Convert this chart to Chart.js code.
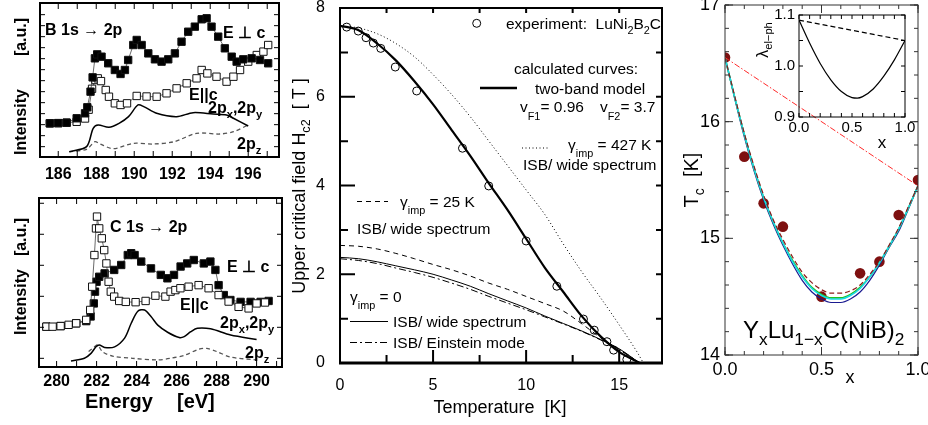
<!DOCTYPE html>
<html lang="en">
<head>
<meta charset="UTF-8" />
<title>NEXAFS, Hc2 and Tc panels</title>
<script src="https://cdn.jsdelivr.net/npm/chart.js@4.4.0/dist/chart.umd.min.js"></script>
<style>
  html, body { margin: 0; width: 928px; height: 425px; overflow: hidden; background: #fff; }
  body { position: relative; }
  canvas { position: absolute; }
</style>
</head>
<body>
<canvas id="boron" width="300" height="205" style="left:-10px;top:-20px"></canvas>
<canvas id="carbon" width="300" height="245" style="left:-10px;top:180px"></canvas>
<canvas id="hc2" width="385" height="445" style="left:290px;top:-20px"></canvas>
<canvas id="tc" width="270" height="445" style="left:675px;top:-20px"></canvas>
<canvas id="lam" width="190" height="190" style="left:740px;top:-20px"></canvas>

<script>
// ---- B 1s -> 2p (top left) ----
const bPerpE = [185.56,186.0,186.44,186.97,187.41,187.53,187.70,187.81,187.93,188.05,188.28,188.63,188.98,189.28,189.51,189.68,189.95,190.13,190.39,190.74,191.09,191.44,191.79,192.14,192.49,192.84,193.19,193.55,193.81,194.07,194.42,194.77,195.13,195.39,195.74,196.18,196.62,197.05];
const bPerpI = [3.06,3.08,3.12,3.52,3.97,4.52,5.94,7.24,8.97,9.33,9.12,8.52,7.91,7.55,7.91,8.82,10.18,10.64,10.18,9.42,8.88,8.67,8.88,9.42,10.48,11.39,11.85,12.52,12.61,11.85,10.94,9.88,9.12,8.67,8.88,8.97,8.82,8.52];
const bParE = [185.56,186.0,186.44,186.97,187.41,187.6,187.78,187.95,188.08,188.25,188.5,188.67,188.98,189.28,189.62,190.13,190.65,191.18,191.7,192.23,192.76,193.28,193.55,193.85,194.33,194.86,195.22,195.57,196.0,196.45,196.8,197.05];
const bParI = [3.06,3.08,3.12,3.2,3.5,4.3,6.2,7.0,7.15,6.9,6.09,5.48,4.88,4.73,4.88,5.55,5.5,5.48,5.79,6.24,6.7,7.15,7.91,7.6,7.3,6.85,7.3,7.91,8.67,9.27,9.58,10.18];
const bXYE = [186.58,187.49,187.84,188.1,188.67,189.2,189.7,190.2,190.5,191.18,192.23,193.1,194.16,194.86,195.22,196.0];
const bXYI = [0.48,0.94,2.61,2.91,2.7,3.06,3.67,4.73,4.58,3.97,3.67,4.03,3.91,3.82,3.52,2.82];
const bZE = [186.58,187.49,187.93,188.2,188.9,189.95,191.0,192.1,193.28,194.5,195.22,196.0];
const bZI = [0.48,0.7,1.39,1.18,0.76,1.24,1.18,1.39,2.15,2.09,2.3,2.91];

// ---- C 1s -> 2p (bottom left) ----
const cParE = [279.49,279.8,280.2,280.6,280.98,281.48,281.68,281.78,281.89,281.97,282.02,282.13,282.26,282.38,282.49,282.6,282.71,282.88,283.13,283.46,283.95,284.45,284.94,285.44,285.7,285.94,286.19,286.6,287.1,287.6,288.1,288.6,289.1,289.6,290.0,290.42];
const cParI = [1.02,1.02,1.04,1.08,1.13,1.24,1.56,2.31,3.33,4.19,4.57,4.19,3.87,3.49,3.06,2.47,2.15,1.99,1.85,1.82,1.81,1.85,2.02,1.99,2.15,2.2,2.26,2.31,2.36,2.26,2.04,1.83,1.66,1.61,1.77,1.8];
const cPerpE = [279.49,280.2,280.98,281.48,281.7,281.86,281.92,282.0,282.13,282.4,282.88,283.23,283.56,283.73,283.9,284.23,284.72,285.21,285.54,285.87,286.2,286.53,286.86,287.36,287.69,287.94,288.1,288.36,288.69,289.2,289.7,290.2,290.6];
const cPerpI = [1.02,1.04,1.13,1.2,1.35,1.77,2.15,2.47,2.63,2.74,2.85,3.01,3.33,3.39,3.33,3.12,2.9,2.69,2.58,2.69,2.96,3.06,3.17,3.06,3.12,2.85,2.36,2.04,1.88,1.82,1.82,1.82,1.85];
const cXYE = [280.72,281.39,281.72,281.97,282.13,282.4,282.9,283.4,283.73,284.06,284.4,284.73,285.06,285.55,286.13,286.38,286.71,287.04,287.7,288.7,290.0];
const cXYI = [-0.09,0,0.16,0.37,0.43,0.35,0.37,0.65,1.13,1.52,1.56,1.34,1.07,0.84,0.67,0.7,0.86,0.97,0.95,0.75,0.61];
const cZE = [281.6,281.89,282.05,282.3,282.8,283.8,285.06,285.7,286.4,287.1,287.5,288.0,288.7,290.0];
const cZI = [0.22,0.37,0.43,0.21,0.07,0,-0.05,0,0.1,0.29,0.32,0.22,0.04,-0.05];

// ---- Hc2(T) (middle) ----
const expT = [0.36,0.98,1.40,1.79,2.19,2.97,4.12,6.58,7.99,10.0,11.65,13.08,13.66,14.34,14.7,15.41];
const expH = [7.57,7.48,7.33,7.21,7.09,6.67,6.13,4.84,3.99,2.75,1.73,0.99,0.74,0.48,0.29,0.08];
const curveT = [0,1,2,3,4,5,6,7,8,9,10,11,12,13,14,15,16.1];
const twoBandH = [7.6,7.5,7.2,6.82,6.35,5.83,5.25,4.67,4.05,3.45,2.8,2.15,1.6,1.05,0.6,0.25,0];
const gam25H = [2.65,2.63,2.57,2.47,2.35,2.22,2.1,1.96,1.8,1.66,1.5,1.34,1.17,0.88,0.57,0.3,0];
const gam0WideH = [2.38,2.35,2.28,2.19,2.1,2.0,1.87,1.73,1.56,1.4,1.24,1.06,0.89,0.72,0.53,0.32,0];
const gam0EinH = [2.35,2.31,2.24,2.14,2.04,1.93,1.8,1.66,1.5,1.35,1.2,1.04,0.88,0.71,0.52,0.31,0];
const dotT = [0,1,2,3,4,5,6,7,8,9,10,11,12,13,14,15,16,16.3];
const gam427H = [7.6,7.55,7.42,7.2,6.9,6.5,6.05,5.55,5.0,4.45,3.9,3.35,2.68,2.05,1.47,0.86,0.22,0];

// ---- Tc(x) (right) ----
const dotX = [0,0.1,0.2,0.3,0.5,0.7,0.8,0.9,1.0];
const dotTc = [16.55,15.7,15.3,15.1,14.5,14.7,14.8,15.2,15.5];
const fitX = [0,0.05,0.1,0.15,0.2,0.25,0.3,0.35,0.4,0.45,0.5,0.55,0.6,0.65,0.7,0.75,0.8,0.85,0.9,0.95,1.0];
const tcBlue = [16.55,16.2,15.87,15.58,15.33,15.12,14.94,14.78,14.64,14.54,14.48,14.45,14.45,14.48,14.54,14.64,14.77,14.92,15.06,15.25,15.45];
const tcCyan = [16.55,16.21,15.89,15.6,15.35,15.14,14.96,14.8,14.67,14.57,14.51,14.48,14.48,14.51,14.57,14.67,14.79,14.93,15.08,15.26,15.45];
const tcGreen = [16.55,16.21,15.89,15.6,15.35,15.14,14.96,14.81,14.68,14.58,14.52,14.49,14.49,14.52,14.58,14.67,14.79,14.93,15.08,15.26,15.45];
const tcDash = [16.55,16.22,15.9,15.62,15.37,15.16,14.99,14.84,14.71,14.62,14.56,14.53,14.53,14.55,14.6,14.69,14.8,14.94,15.09,15.27,15.45];
const linX = [0,1];
const linTc = [16.55,15.45];

// ---- lambda(x) (inset) ----
const lamX = [0,0.1,0.2,0.3,0.4,0.5,0.55,0.6,0.7,0.8,0.9,1.0];
const lamSolid = [1.09,1.045,1.005,0.973,0.95,0.938,0.937,0.94,0.955,0.98,1.012,1.05];
const lamLinX = [0,1];
const lamLin = [1.09,1.05];

const FAM = "'Liberation Sans', Arial, Helvetica, sans-serif";
Chart.defaults.font.family = FAM;
Chart.defaults.color = '#000';
Chart.defaults.animation = false;
Chart.defaults.plugins.legend.display = false;
Chart.defaults.plugins.tooltip.enabled = false;

const mk = (xs, ys) => xs.map((x, i) => ({ x: x, y: ys[i] }));

function lineSet(xs, ys, color, width, dash, extra) {
  return Object.assign({
    data: mk(xs, ys), showLine: true, borderColor: color, borderWidth: width,
    borderDash: dash || [], pointRadius: 0, cubicInterpolationMode: 'monotone'
  }, extra || {});
}

function squareSet(xs, ys, fill) {
  return {
    data: mk(xs, ys), showLine: true, borderColor: '#444', borderWidth: 0.8,
    pointStyle: 'rect', pointRadius: 5.2, pointBackgroundColor: fill,
    pointBorderColor: '#111', pointBorderWidth: 1
  };
}

// rich text: parts = [[text, 'n'|'b'(sub)|'p'(sup)], ...]
function drawRich(ctx, it) {
  const size = it.size || 16;
  const weight = it.bold ? 'bold ' : '';
  const sub = it.subScale || 0.7;
  ctx.save();
  ctx.translate(it.x, it.y);
  if (it.rot) ctx.rotate(it.rot * Math.PI / 180);
  ctx.fillStyle = it.color || '#000';
  ctx.textBaseline = 'alphabetic';
  ctx.textAlign = 'left';
  let total = 0;
  const segs = it.parts.map(p => {
    const kind = p[1] || 'n';
    const s = kind === 'n' ? size : size * sub;
    const font = weight + s + 'px ' + FAM;
    ctx.font = font;
    const w = ctx.measureText(p[0]).width;
    total += w;
    const dy = kind === 'b' ? (it.subDy != null ? it.subDy : size * 0.3) : kind === 'p' ? -size * 0.4 : 0;
    return { t: p[0], font: font, w: w, dy: dy };
  });
  let x = it.align === 'center' ? -total / 2 : it.align === 'right' ? -total : 0;
  segs.forEach(s => { ctx.font = s.font; ctx.fillText(s.t, x, s.dy); x += s.w; });
  ctx.restore();
}

// box with inward ticks
const framePlugin = {
  id: 'frame',
  afterDatasetsDraw(chart, args, o) {
    if (!o || !o.width) return;
    const ctx = chart.ctx, a = chart.chartArea, sc = chart.scales;
    ctx.save();
    ctx.strokeStyle = o.color || '#000';
    (o.ticks || []).forEach(t => {
      const s = sc[t.axis];
      const n = Math.round((t.to - t.from) / t.step);
      ctx.lineWidth = t.width || 1;
      ctx.beginPath();
      for (let i = 0; i <= n; i++) {
        const p = s.getPixelForValue(t.from + i * t.step);
        if (t.axis === 'x') {
          if (t.sides.includes('b')) { ctx.moveTo(p, a.bottom); ctx.lineTo(p, a.bottom - t.len); }
          if (t.sides.includes('t')) { ctx.moveTo(p, a.top); ctx.lineTo(p, a.top + t.len); }
        } else {
          if (t.sides.includes('l')) { ctx.moveTo(a.left, p); ctx.lineTo(a.left + t.len, p); }
          if (t.sides.includes('r')) { ctx.moveTo(a.right, p); ctx.lineTo(a.right - t.len, p); }
        }
      }
      ctx.stroke();
    });
    ctx.lineWidth = o.width;
    ctx.strokeRect(a.left, a.top, a.width, a.height);
    if (o.bottomWidth) {
      ctx.lineWidth = o.bottomWidth;
      ctx.beginPath(); ctx.moveTo(a.left - 1, a.bottom); ctx.lineTo(a.right + 1, a.bottom); ctx.stroke();
    }
    ctx.restore();
  }
};

// texts and legend samples, given in page coordinates
const notesPlugin = {
  id: 'notes',
  afterDraw(chart, args, o) {
    if (!o || !o.items) return;
    const ctx = chart.ctx;
    const ox = o.off[0], oy = o.off[1];
    o.items.forEach(it => {
      if (it.type === 'line') {
        ctx.save();
        ctx.strokeStyle = it.color || '#000';
        ctx.lineWidth = it.width || 1;
        ctx.setLineDash(it.dash || []);
        ctx.beginPath();
        ctx.moveTo(it.x1 - ox, it.y1 - oy); ctx.lineTo(it.x2 - ox, it.y2 - oy);
        ctx.stroke();
        ctx.restore();
      } else if (it.type === 'circle') {
        ctx.save();
        ctx.strokeStyle = '#000'; ctx.lineWidth = 1;
        ctx.beginPath(); ctx.arc(it.x - ox, it.y - oy, it.r, 0, Math.PI * 2); ctx.stroke();
        ctx.restore();
      } else {
        drawRich(ctx, Object.assign({}, it, { x: it.x - ox, y: it.y - oy }));
      }
    });
  }
};
Chart.register(framePlugin, notesPlugin);

function xAxis(min, max, step, size, bold, pad, h, fmt) {
  return {
    type: 'linear', min: min, max: max,
    ticks: { stepSize: step, includeBounds: false, maxRotation: 0, autoSkip: false, padding: pad,
      font: { size: size, weight: bold ? 'bold' : 'normal' }, callback: fmt || (v => v) },
    grid: { display: false, drawTicks: false }, border: { display: false },
    afterFit(s) { s.height = h; }
  };
}
function yAxis(min, max, step, size, pad, w, show, fmt) {
  return {
    type: 'linear', min: min, max: max,
    ticks: { display: show, stepSize: step, includeBounds: false, padding: pad,
      font: { size: size }, callback: fmt || (v => v) },
    grid: { display: false, drawTicks: false }, border: { display: false },
    afterFit(s) { s.width = w; }
  };
}
const f1 = v => v.toFixed(1);

// top left: boron
new Chart(document.getElementById('boron'), {
  type: 'scatter',
  data: { datasets: [
    squareSet(bPerpE, bPerpI, '#000'),
    squareSet(bParE, bParI, '#fff'),
    lineSet(bXYE, bXYI, '#000', 1.5, [], { tension: 0.3, cubicInterpolationMode: 'default' }),
    lineSet(bZE, bZI, '#555', 1.3, [4, 3], { tension: 0.3, cubicInterpolationMode: 'default' })
  ] },
  options: {
    responsive: false,
    layout: { padding: { left: 0, right: 11, top: 23, bottom: 0 } },
    scales: { x: xAxis(185.04, 197.62, 2, 16, true, 8, 28), y: yAxis(0, 14, 1, 10, 0, 50, false) },
    plugins: {
      frame: { width: 2, ticks: [
        { axis: 'x', from: 186, to: 197, step: 1, len: 6, sides: 'bt' },
        { axis: 'y', from: 0.94, to: 12.94, step: 1, len: 5, sides: 'lr' } ] },
      notes: { off: [-10, -20], items: [
        { x: 45, y: 35, parts: [['B 1s \u2192 2p']], size: 16, bold: true },
        { x: 223, y: 38, parts: [['E \u22A5 c']], size: 16, bold: true },
        { x: 189, y: 100, parts: [['E||c']], size: 16, bold: true },
        { x: 208, y: 113, parts: [['2p'], ['x', 'b'], [',2p'], ['y', 'b']], size: 16, bold: true },
        { x: 237, y: 149, parts: [['2p'], ['z', 'b']], size: 16, bold: true },
        { x: 26, y: 122, rot: -90, align: 'center', parts: [['Intensity']], size: 16, bold: true },
        { x: 26, y: 37, rot: -90, align: 'center', parts: [['[a.u.]']], size: 16, bold: true }
      ] }
    }
  }
});

// bottom left: carbon
new Chart(document.getElementById('carbon'), {
  type: 'scatter',
  data: { datasets: [
    squareSet(cParE, cParI, '#fff'),
    squareSet(cPerpE, cPerpI, '#000'),
    lineSet(cXYE, cXYI, '#000', 1.5, [], { tension: 0.3, cubicInterpolationMode: 'default' }),
    lineSet(cZE, cZI, '#555', 1.3, [4, 3], { tension: 0.3, cubicInterpolationMode: 'default' })
  ] },
  options: {
    responsive: false,
    layout: { padding: { left: 0, right: 8, top: 18, bottom: 0 } },
    scales: { x: xAxis(279.12, 291.27, 2, 16, true, 5, 58), y: yAxis(-0.28, 5.17, 1, 10, 0, 49, false) },
    plugins: {
      frame: { width: 2, ticks: [
        { axis: 'x', from: 280, to: 291, step: 1, len: 6, sides: 'bt' },
        { axis: 'y', from: 0, to: 5, step: 1, len: 5, sides: 'lr' } ] },
      notes: { off: [-10, 180], items: [
        { x: 110, y: 232, parts: [['C 1s \u2192 2p']], size: 16, bold: true },
        { x: 227, y: 272, parts: [['E \u22A5 c']], size: 16, bold: true },
        { x: 180, y: 310, parts: [['E||c']], size: 16, bold: true },
        { x: 220, y: 328, parts: [['2p'], ['x', 'b'], [',2p'], ['y', 'b']], size: 16, bold: true },
        { x: 245, y: 358, parts: [['2p'], ['z', 'b']], size: 16, bold: true },
        { x: 26, y: 302, rot: -90, align: 'center', parts: [['Intensity']], size: 16, bold: true },
        { x: 26, y: 237, rot: -90, align: 'center', parts: [['[a.u.]']], size: 16, bold: true },
        { x: 85, y: 408, parts: [['Energy']], size: 20, bold: true },
        { x: 177, y: 408, parts: [['[eV]']], size: 20, bold: true }
      ] }
    }
  }
});

// middle: upper critical field
new Chart(document.getElementById('hc2'), {
  type: 'scatter',
  data: { datasets: [
    { data: mk(expT, expH), pointStyle: 'circle', pointRadius: 4, pointBorderColor: '#000',
      pointBorderWidth: 1, pointBackgroundColor: 'rgba(0,0,0,0)', showLine: false },
    lineSet(curveT, twoBandH, '#000', 2.2),
    lineSet(dotT, gam427H, '#000', 1, [1, 2.5]),
    lineSet(curveT, gam25H, '#000', 1, [5, 4]),
    lineSet(curveT, gam0WideH, '#000', 1),
    lineSet(curveT, gam0EinH, '#000', 1, [7, 3, 2, 3])
  ] },
  options: {
    responsive: false,
    layout: { padding: { left: 0, right: 13, top: 28, bottom: 0 } },
    scales: { x: xAxis(0, 17.3, 5, 16, false, 13, 62), y: yAxis(0, 8, 2, 16, 15, 50, true) },
    plugins: {
      frame: { width: 2, bottomWidth: 3, ticks: [
        { axis: 'y', from: 0, to: 8, step: 2, len: 15, sides: 'l', width: 2 },
        { axis: 'y', from: 1, to: 7, step: 2, len: 8, sides: 'l', width: 2 },
        { axis: 'y', from: 1, to: 7, step: 1, len: 6, sides: 'r', width: 2 },
        { axis: 'x', from: 0, to: 15, step: 5, len: 13, sides: 'b', width: 2 },
        { axis: 'x', from: 2.5, to: 12.5, step: 5, len: 8, sides: 'b', width: 2 },
        { axis: 'x', from: 2.5, to: 15, step: 2.5, len: 5, sides: 't', width: 2 } ] },
      notes: { off: [290, -20], items: [
        { type: 'circle', x: 476.7, y: 23.3, r: 4 },
        { x: 506, y: 29, parts: [['experiment:  LuNi'], ['2', 'b'], ['B'], ['2', 'b'], ['C']], size: 15.5 },
        { x: 514, y: 74, parts: [['calculated curves:']], size: 15.5 },
        { type: 'line', x1: 480, y1: 88, x2: 517, y2: 88, width: 2.5 },
        { x: 535, y: 94, parts: [['two-band model']], size: 15.5 },
        { x: 520, y: 112, parts: [['v'], ['F1', 'b'], ['= 0.96']], size: 15.5, subDy: 8 },
        { x: 600, y: 112, parts: [['v'], ['F2', 'b'], ['= 3.7']], size: 15.5, subDy: 8 },
        { type: 'line', x1: 522, y1: 148, x2: 550, y2: 148, dash: [1, 2.5] },
        { x: 568, y: 150, parts: [['\u03B3'], ['imp', 'b'], [' = 427 K']], size: 15.5, subDy: 7 },
        { x: 523, y: 170, parts: [['ISB/ wide spectrum']], size: 15.5 },
        { type: 'line', x1: 357, y1: 201.5, x2: 388, y2: 201.5, dash: [5, 4] },
        { x: 400, y: 207, parts: [['\u03B3'], ['imp', 'b'], [' = 25 K']], size: 15.5, subDy: 7 },
        { x: 357, y: 234, parts: [['ISB/ wide spectrum']], size: 15.5 },
        { x: 350, y: 302, parts: [['\u03B3'], ['imp', 'b'], [' = 0']], size: 15.5, subDy: 7 },
        { type: 'line', x1: 350, y1: 321.5, x2: 388, y2: 321.5 },
        { x: 393, y: 327, parts: [['ISB/ wide spectrum']], size: 15.5 },
        { type: 'line', x1: 350, y1: 342.5, x2: 388, y2: 342.5, dash: [7, 3, 2, 3] },
        { x: 393, y: 348, parts: [['ISB/ Einstein mode']], size: 15.5 },
        { x: 305, y: 186, rot: -90, align: 'center', parts: [['Upper critical field H'], ['c2', 'b'], ['  [ T ]']], size: 18 },
        { x: 500, y: 413, align: 'center', parts: [['Temperature  [K]']], size: 18 }
      ] }
    }
  }
});

// right: Tc vs x
new Chart(document.getElementById('tc'), {
  type: 'scatter',
  data: { datasets: [
    lineSet(linX, linTc, '#ff2a2a', 1, [6, 2, 1.5, 2]),
    lineSet(fitX, tcDash, '#8b1a1a', 1.2, [5, 3]),
    lineSet(fitX, tcCyan, '#18d8e8', 1.6),
    lineSet(fitX, tcGreen, '#22c022', 1.6),
    lineSet(fitX, tcBlue, '#1a1a90', 1.2),
    { data: mk(dotX, dotTc), pointStyle: 'circle', pointRadius: 5.3, pointBorderWidth: 0,
      pointBackgroundColor: '#7e1010', showLine: false }
  ] },
  options: {
    responsive: false,
    layout: { padding: { left: 0, right: 27, top: 25, bottom: 0 } },
    scales: { x: xAxis(0, 1, 0.5, 18, false, 4, 70, f1), y: yAxis(14, 17, 1, 18, 5, 50, true) },
    plugins: {
      frame: { width: 1, color: '#333', ticks: [
        { axis: 'y', from: 14, to: 17, step: 1, len: 8, sides: 'lr' },
        { axis: 'y', from: 14, to: 17, step: 0.2, len: 4, sides: 'lr' },
        { axis: 'x', from: 0, to: 1, step: 0.5, len: 8, sides: 'bt' },
        { axis: 'x', from: 0, to: 1, step: 0.1, len: 4, sides: 'bt' } ] },
      notes: { off: [675, -20], items: [
        { x: 698, y: 180, rot: -90, align: 'center', parts: [['T'], ['c', 'b'], ['  [K]']], size: 20 },
        { x: 850, y: 383, align: 'center', parts: [['x']], size: 18 },
        { x: 743, y: 338, parts: [['Y'], ['x', 'b'], ['Lu'], ['1\u2212x', 'b'], ['C(NiB)'], ['2', 'b']], size: 24, subScale: 0.72 }
      ] }
    }
  }
});

// inset: lambda el-ph
new Chart(document.getElementById('lam'), {
  type: 'scatter',
  data: { datasets: [
    lineSet(lamX, lamSolid, '#000', 1.2),
    lineSet(lamLinX, lamLin, '#000', 1.2, [5, 3])
  ] },
  options: {
    responsive: false,
    layout: { padding: { left: 0, right: 25, top: 35, bottom: 0 } },
    scales: { x: xAxis(0, 1, 0.5, 15, false, 2, 53, f1), y: yAxis(0.9, 1.1, 0.1, 15, 4, 59, true, f1) },
    plugins: {
      frame: { width: 1, color: '#000', ticks: [
        { axis: 'y', from: 0.9, to: 1.1, step: 0.05, len: 4, sides: 'lr' },
        { axis: 'x', from: 0, to: 1, step: 0.1, len: 4, sides: 'bt' } ] },
      notes: { off: [740, -20], items: [
        { x: 768, y: 40, rot: -90, align: 'center', parts: [['\u03BB'], ['el\u2212ph', 'b']], size: 16, subDy: 4 },
        { x: 882, y: 148, align: 'center', parts: [['x']], size: 17 }
      ] }
    }
  }
});
</script>
</body>
</html>
